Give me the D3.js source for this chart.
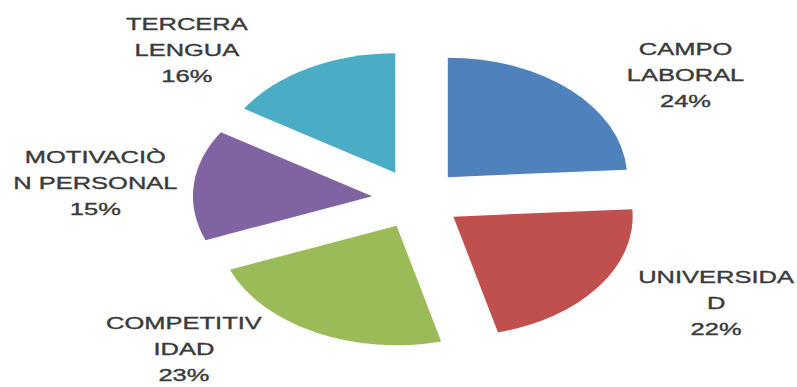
<!DOCTYPE html>
<html>
<head>
<meta charset="utf-8">
<script src="https://cdn.jsdelivr.net/npm/d3@7"></script>
<style>
  html, body { margin: 0; padding: 0; background: #fff; }
  svg { display: block; }
</style>
</head>
<body>
<svg id="chart" width="797" height="387"></svg>
<script>
// Categories (as wrapped in the data labels), their shares and colours
const categoryLines = [
  ["CAMPO", "LABORAL"],
  ["UNIVERSIDA", "D"],
  ["COMPETITIV", "IDAD"],
  ["MOTIVACIÒ", "N PERSONAL"],
  ["TERCERA", "LENGUA"]
];
const values = [24, 22, 23, 15, 16];
const colors = ["#4F81BD", "#C0504D", "#9BBB59", "#8064A2", "#4BACC6"];

// Layout of the exploded, horizontally stretched pie
const cx = 417, cy = 199;
const R = 119.5;          // radius in the unstretched frame
const sx = 1.5;           // horizontal stretch
const explode = 30;       // offset of each slice from the centre
const labelAngles = [55.2, 117.6, 226.0, 274.2, 314.2]; // degrees, clockwise from top
const labelRadius = [218, 225, 216, 215, 214];
const lineGap = 26;

const svg = d3.select("#chart");

const data = values.map((v, i) => ({ lines: categoryLines[i], value: v, color: colors[i] }));

const pie = d3.pie().sort(null).value(d => d.value).startAngle(0).endAngle(2 * Math.PI);
const arc = d3.arc().innerRadius(0).outerRadius(R);

const pieG = svg.append("g")
  .attr("transform", `translate(${cx},${cy}) scale(${sx},1)`);

pieG.selectAll("path")
  .data(pie(data))
  .join("path")
  .attr("d", arc)
  .attr("fill", d => d.data.color)
  .attr("transform", d => {
    const mid = (d.startAngle + d.endAngle) / 2;
    return `translate(${explode * Math.sin(mid)},${-explode * Math.cos(mid)})`;
  });

// Data labels: category name plus percentage
const labels = svg.selectAll("g.label")
  .data(data)
  .join("g")
  .attr("class", "label")
  .attr("transform", (d, i) => {
    const a = labelAngles[i] * Math.PI / 180;
    const r = labelRadius[i];
    return `translate(${cx + sx * r * Math.sin(a)},${cy - r * Math.cos(a)}) scale(${sx},1)`;
  });

const text = labels.append("text")
  .attr("text-anchor", "middle")
  .attr("font-family", "'Liberation Sans', Arial, sans-serif")
  .attr("font-size", 17)
  .attr("fill", "#3a3a3a")
  .attr("stroke", "#3a3a3a")
  .attr("stroke-width", 0.35);

text.each(function(d) {
  const t = d3.select(this);
  const rows = [...d.lines, d.value + "%"];
  rows.forEach((s, k) => {
    t.append("tspan")
      .attr("x", 0)
      .attr("y", (k - 1) * lineGap + 6.2)
      .text(s);
  });
});
</script>
</body>
</html>
